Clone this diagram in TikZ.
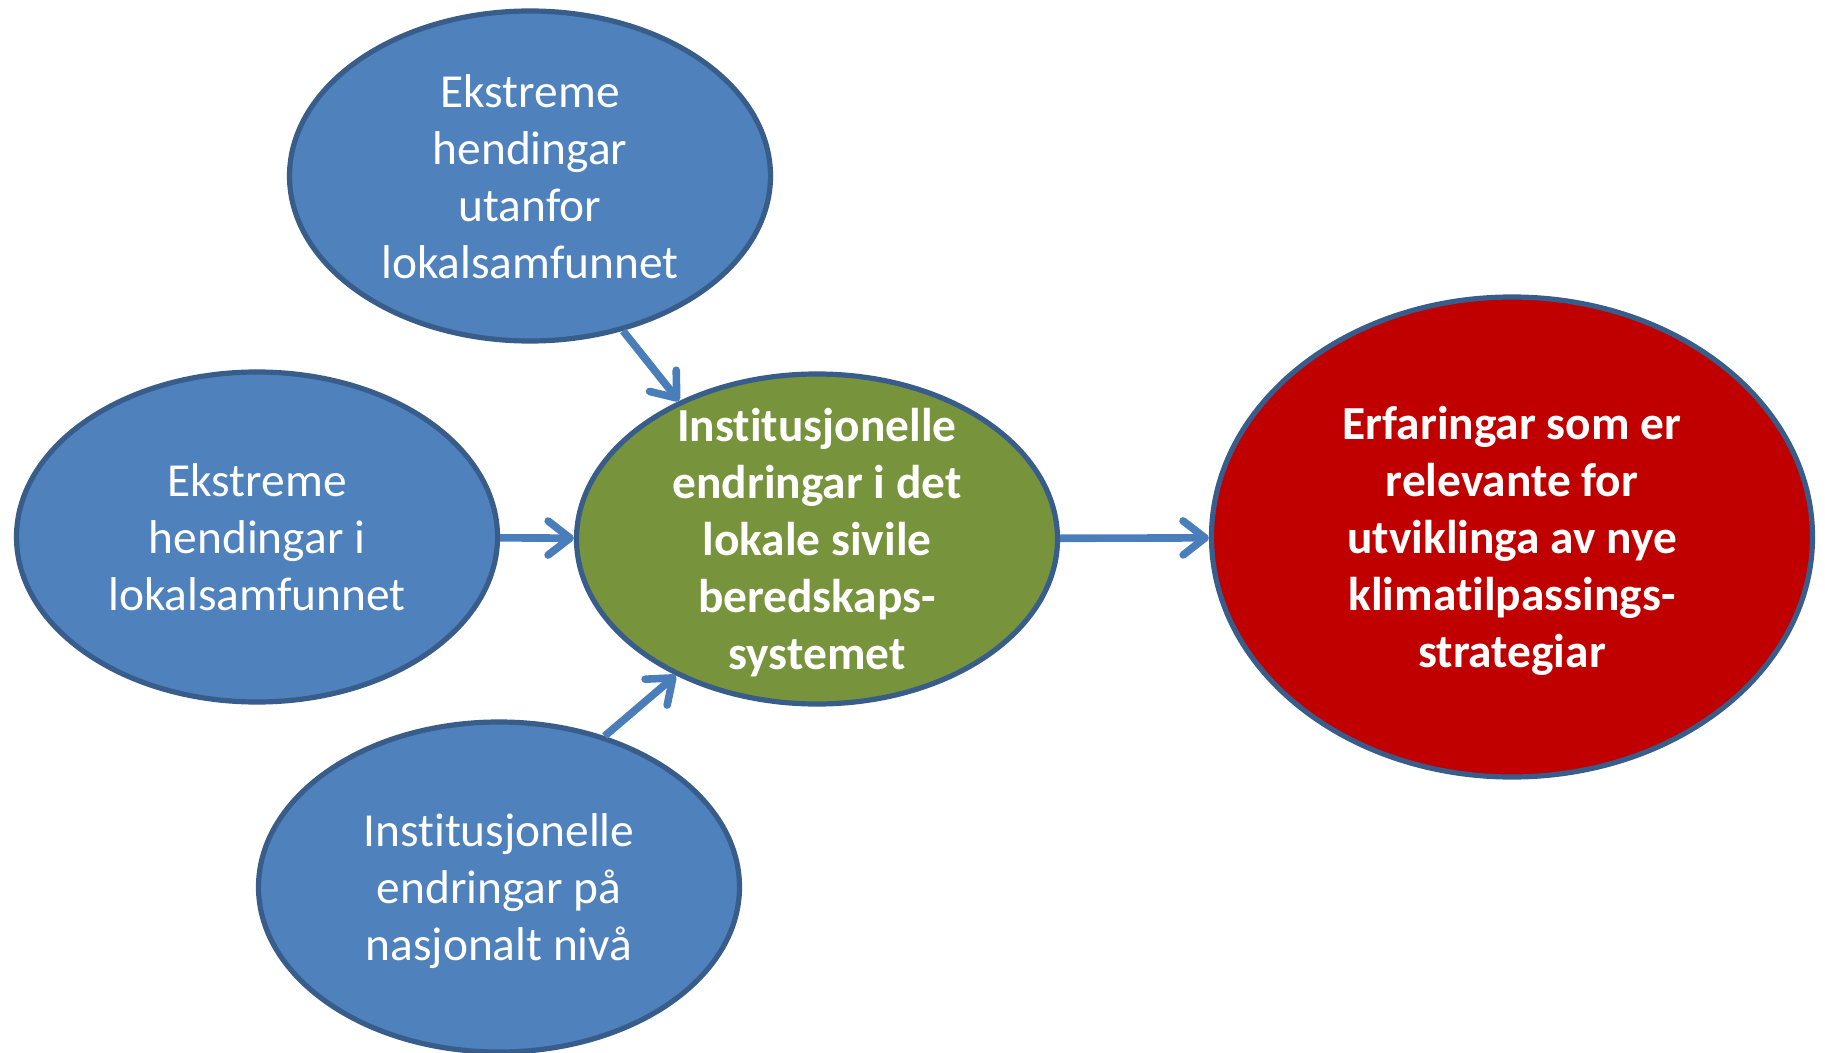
\documentclass[tikz,border=0pt]{standalone}
\usepackage{fontspec}
\setmainfont{Carlito}[Ligatures=NoCommon]
\usetikzlibrary{shapes.geometric,arrows.meta}
\definecolor{fillblue}{HTML}{4F81BD}
\definecolor{edgeblue}{HTML}{385D8A}
\definecolor{fillgreen}{HTML}{77933C}
\definecolor{fillred}{HTML}{C00000}
\definecolor{arrowblue}{HTML}{4A7EBB}
\begin{document}
\begin{tikzpicture}[x=0.5pt,y=-0.5pt,
  bubble/.style={ellipse, draw=edgeblue, line width=2.6pt, inner sep=0pt,
    minimum width=240.5pt, minimum height=165pt},
  bluebubble/.style={bubble, fill=fillblue},
  txt/.style={text=white, align=center, inner sep=0pt, font=\fontsize{23.7}{28.5}\selectfont},
  boldtxt/.style={txt, font=\fontsize{23.7}{28.5}\selectfont\bfseries},
  arr/.style={draw=arrowblue, line width=3.8pt, -{Straight Barb[length=11pt,width=17pt,round]}}]
\useasboundingbox (0,0) rectangle (1825,1053);
\node[bluebubble] (top) at (530,176) {};
\node[bluebubble] (left) at (257,537) {};
\node[bluebubble] (bottom) at (499,887) {};
\node[bubble, fill=fillgreen] (green) at (817,539) {};
\node[bubble, fill=fillred, minimum width=300.5pt, minimum height=240pt] (red) at (1512,537) {};
\node[txt] (topT) at ([yshift=-0.3pt]top.center) {Ekstreme\\hendingar\\utanfor\\lokalsamfunnet};
\node[txt] (leftT) at ([yshift=-0.3pt]left.center) {Ekstreme\\hendingar i\\lokalsamfunnet};
\node[txt] (bottomT) at ([yshift=-1.8pt]bottom.center) {Institusjonelle\\endringar på\\nasjonalt nivå};
\node[boldtxt] (greenT) at ([yshift=-1.8pt]green.center)
  {Institusjonelle\\endringar i det\\lokale sivile\\beredskaps-\\systemet};
\node[boldtxt] (redT) at ([yshift=-1.8pt]red.center)
  {Erfaringar som er\\relevante for\\utviklinga av nye\\klimatilpassings-\\strategiar};
\draw[arr] (top.-59) -- (green.135);
\draw[arr] (left) -- (green);
\draw[arr] (bottom.55) -- (green.224);
\draw[arr] (green) -- (red);
\end{tikzpicture}
\end{document}
